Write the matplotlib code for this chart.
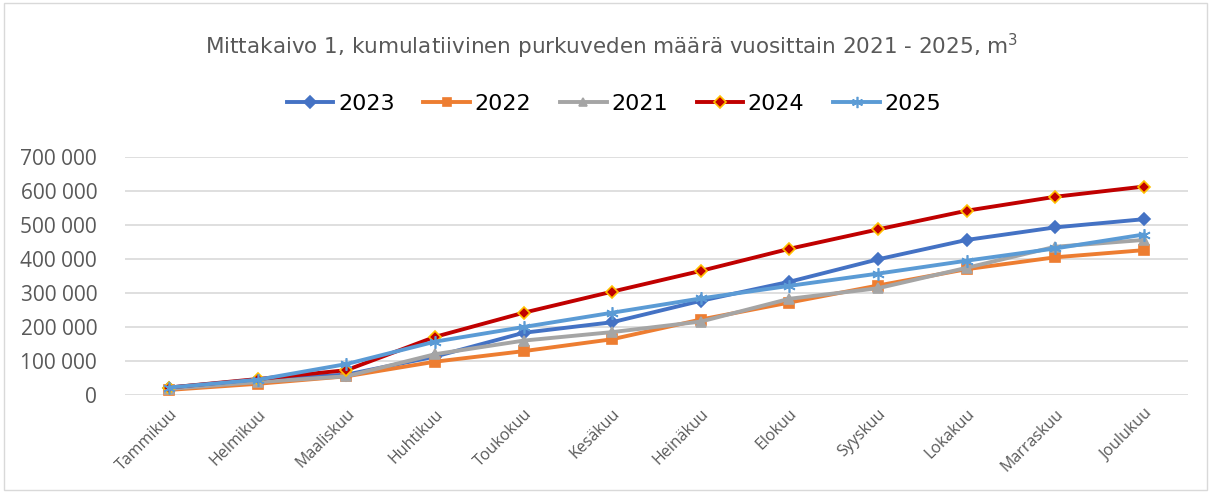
#!/usr/bin/env python3
"""Mittakaivo 1 - cumulative discharge water per year, line chart."""

import matplotlib
matplotlib.use('Agg')
import matplotlib.pyplot as plt
from matplotlib.patches import Rectangle
from matplotlib.ticker import FuncFormatter

# ── Data ───────────────────────────────────────────────────────────
months = ['Tammikuu', 'Helmikuu', 'Maaliskuu', 'Huhtikuu', 'Toukokuu', 'Kesäkuu',
          'Heinäkuu', 'Elokuu', 'Syyskuu', 'Lokakuu', 'Marraskuu', 'Joulukuu']

y2023 = [22000, 45000, 60000, 113000, 183000, 214000, 277000, 333000, 399000, 456000, 493000, 517000]
y2022 = [15000, 33000, 55000, 98000, 129000, 164000, 222000, 272000, 322000, 370000, 405000, 426000]
y2021 = [18000, 38000, 55000, 120000, 160000, 185000, 216000, 283000, 314000, 374000, 436000, 456000]
y2024 = [22000, 47000, 73000, 171000, 242000, 304000, 365000, 430000, 487000, 542000, 583000, 613000]
y2025 = [22000, 45000, 91000, 157000, 200000, 242000, 284000, 321000, 357000, 395000, 431000, 472000]

series = [
    ('2023', y2023, '#4472C4', 'D', '#4472C4'),
    ('2022', y2022, '#ED7D31', 's', '#ED7D31'),
    ('2021', y2021, '#A5A5A5', '^', '#A5A5A5'),
    ('2024', y2024, '#C00000', 'D', '#FFC000'),
    ('2025', y2025, '#5B9BD5', (6, 2, 0), '#5B9BD5'),
]

NARROW = ['Liberation Sans Narrow', 'DejaVu Sans']
TICKF = ['Open Sans', 'DejaVu Sans']

# ── Figure ─────────────────────────────────────────────────────────
fig = plt.figure(figsize=(12.11, 4.93), dpi=100)
ax = fig.add_axes([125 / 1211, (493 - 395) / 493, 1063 / 1211, 238 / 493])

x = list(range(len(months)))
for label, vals, col, mk, edge in series:
    ms = 6.5 if mk != (6, 2, 0) else 9
    ax.plot(x, vals, color=col, linewidth=2.8, marker=mk, markersize=ms,
            markerfacecolor=col, markeredgecolor=edge, markeredgewidth=1.2, label=label)

ax.set_xlim(-0.5, len(months) - 0.5)
ax.set_ylim(0, 700000)
ax.set_yticks(range(0, 700001, 100000))
ax.yaxis.set_major_formatter(FuncFormatter(lambda v, p: f"{int(v):,}".replace(',', ' ')))
ax.grid(axis='y', color='#D9D9D9', linewidth=1.2)
ax.set_axisbelow(True)
for s in ax.spines.values():
    s.set_visible(False)
ax.tick_params(length=0)

ax.set_xticks(x)
ax.set_xticklabels(months, rotation=45, ha='right', va='top', rotation_mode='anchor',
                   fontsize=11.5, color='#595959', family=TICKF)
for t in ax.get_yticklabels():
    t.set_fontsize(15)
    t.set_color('#595959')
    t.set_family(TICKF)
ax.tick_params(axis='y', pad=20)
ax.tick_params(axis='x', pad=8)

fig.text(0.505, 0.905, 'Mittakaivo 1, kumulatiivinen purkuveden määrä vuosittain 2021 - 2025, m$^3$',
         ha='center', va='center', fontsize=15.5, color='#595959', family=NARROW)

leg = fig.legend(loc='center', bbox_to_anchor=(0.507, 0.79), ncol=5, frameon=False,
                 prop={'family': NARROW, 'size': 16}, handlelength=2.1, columnspacing=1.3,
                 handletextpad=0.2, markerscale=0.9, labelcolor='#000000')

fig.patches.append(Rectangle((4 / 1211, 3 / 493), 1 - 8 / 1211, 1 - 6 / 493,
                             transform=fig.transFigure, fill=False,
                             edgecolor='#D9D9D9', linewidth=1))

fig.savefig('out.png', dpi=100)
plt.close()
